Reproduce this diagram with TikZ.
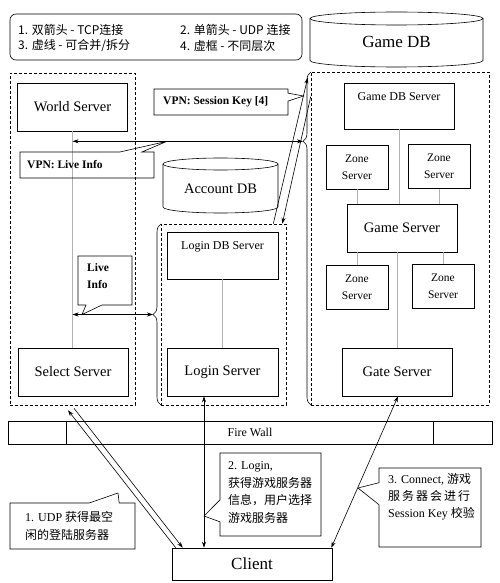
\documentclass[tikz,border=0pt]{standalone}
\usepackage{fontspec}
\setmainfont{Liberation Serif}
\newfontfamily\cjk{Noto Sans CJK SC}
\usetikzlibrary{arrows.meta, positioning, shapes.callouts, decorations.pathreplacing}

\begin{document}
\begin{tikzpicture}[
    x=1pt, y=-1pt, % pixel grid, y going down
    server/.style={rectangle, draw, semithick, minimum height=48pt, minimum width=110pt, align=center, font=\fontsize{14.5}{17}\selectfont}, % main servers
    dbserver/.style={rectangle, draw, semithick, minimum height=47pt, minimum width=111pt, align=center, font=\fontsize{12}{15}\selectfont}, % title at the top
    zone/.style={rectangle, draw, semithick, minimum height=44pt, minimum width=62pt, align=center, font=\fontsize{11.5}{17}\selectfont},
    group/.style={rectangle, draw, semithick, dash pattern=on 3pt off 2pt, inner sep=0pt}, % dashed layers
    link/.style={gray!60, semithick},
    tcp/.style={{Stealth[length=6pt,width=4pt]}-{Stealth[length=6pt,width=4pt]}, semithick},
    udp/.style={-{Stealth[length=6pt,width=4pt]}, semithick},
    callbox/.style={rectangle callout, draw, semithick, inner sep=0pt},
    vpntext/.style={anchor=west, align=left, inner sep=0pt, font=\fontsize{11.5}{17}\selectfont\bfseries},
    notetext/.style={anchor=west, align=left, inner sep=0pt, font=\fontsize{12}{17.7}\selectfont},
    legendtext/.style={anchor=west, inner sep=0pt, font=\cjk\fontsize{12}{14}\selectfont},
    bracket/.style={semithick, decorate}
]
\useasboundingbox (0,0) rectangle (500,583);

% Legend
\node[draw, semithick, rounded corners=6pt, minimum width=292pt, minimum height=46pt] (legend) at (156,37) {};
\node[legendtext] (leg1) at (18,30) {1. 双箭头 - TCP连接};
\node[legendtext] (leg2) at (180,30) {2. 单箭头 - UDP 连接};
\node[legendtext] (leg3) at (18,46) {3. 虚线 - 可合并/拆分};
\node[legendtext] (leg4) at (180,46) {4. 虚框 - 不同层次};

% Databases
\node[font=\fontsize{17}{20}\selectfont] (gamedb) at (396.5,42) {Game DB};
\draw[semithick] (396.5,18.5) ellipse [x radius=86.5pt, y radius=6.5pt];
\draw[semithick] (310,18.5) -- (310,60.5) arc [start angle=180, end angle=360, x radius=86.5pt, y radius=6.5pt] -- (483,18.5);

\node[font=\fontsize{14.5}{17}\selectfont] (accountdb) at (220.5,189) {Account DB};
\draw[semithick] (220.5,164) ellipse [x radius=57.5pt, y radius=6pt];
\draw[semithick] (163,164) -- (163,207) arc [start angle=180, end angle=360, x radius=57.5pt, y radius=6pt] -- (278,164);

% Layers
\node[group, minimum width=125pt, minimum height=332pt] (worldgrp) at (72.5,239) {};
\node[group, minimum width=125pt, minimum height=181pt] (logingrp) at (223.5,314.5) {};
\node[group, minimum width=178pt, minimum height=333pt] (gamegrp) at (400,238.5) {};

\draw[bracket, decoration={brace, amplitude=8pt}] (161,405) -- (161,224);
\draw[bracket, decoration={brace, amplitude=8pt, aspect=0.792}] (311,405) -- (311,72);
\coordinate (logintip) at (153,314.5);
\coordinate (gametip) at (303,141.3);

% World / Select
\node[server] (worldsrv) at (72.5,107) {World Server};
\node[server] (selectsrv) at (73,372) {Select Server};

% Login
\node[dbserver] (logindbsrv) at (222.5,255.5) {Login DB Server\\ \strut};
\node[server, minimum width=111pt] (loginsrv) at (logindbsrv |- selectsrv) {Login Server};

% Game
\node[dbserver, minimum width=110pt, minimum height=46pt] (gamedbsrv) at (399,106) {Game DB Server\\ \strut};
\node[zone] (zoneA) at (357,167) {Zone\\Server};
\node[zone] (zoneB) at (439,166.5) {Zone\\Server};
\node[server] (gamesrv) at (402,228) {Game Server};
\node[zone] (zoneC) at (357,287) {Zone\\Server};
\node[zone] (zoneD) at (443,286) {Zone\\Server};
\node[server] (gatesrv) at (397,372) {Gate Server};

% Fire wall and client
\node[rectangle, draw, semithick, minimum width=484pt, minimum height=23pt, font=\fontsize{12}{14}\selectfont] (firewall) at (250,432.5) {Fire Wall};
\draw[semithick] ([xshift=59pt]firewall.north west) -- ([xshift=59pt]firewall.south west);
\draw[semithick] ([xshift=-59pt]firewall.north east) -- ([xshift=-59pt]firewall.south east);
\node[rectangle, draw, semithick, minimum width=160pt, minimum height=32pt, font=\fontsize{17}{20}\selectfont] (client) at (252,564) {Client};

% Inner links
\draw[link] (worldsrv.south) -- (worldsrv.south |- selectsrv.north);
\draw[link] (logindbsrv.south) -- (loginsrv.north);
\draw[link] (gamedbsrv.south) -- (gamedbsrv.south |- gamesrv.north);
\draw[link] (zoneA.south) -- (zoneA.south |- gamesrv.north);
\draw[link] (zoneB.south) -- (zoneB.south |- gamesrv.north);
\draw[link] (zoneC.north) -- (zoneC.north |- gamesrv.south);
\draw[link] (zoneD.north) -- (zoneD.north |- gamesrv.south);
\draw[link] (gatesrv.north) -- (gatesrv.north |- gamesrv.south);

% VPN links
\draw[tcp] (worldsrv.south |- gametip) -- (gametip);
\draw[tcp] (worldsrv.south |- logintip) -- (logintip);
\draw[udp] ([xshift=-13pt]logingrp.north east) -- ([shift={(-3pt,-6pt)}]gamegrp.north west);
\draw[udp] ([yshift=-25pt]gamegrp.north west) -- ([xshift=-4pt]logingrp.north east);

% Client links
\draw[udp] ([xshift=4pt]client.north west) -- ([shift={(-4.5pt,-5pt)}]worldgrp.south);
\draw[udp] ([shift={(1.5pt,-3pt)}]worldgrp.south) -- ([xshift=11pt]client.north west);
\draw[tcp] ([xshift=-18.5pt]loginsrv.south) -- ([xshift=-18.5pt]loginsrv.south |- client.north);
\draw[tcp] ([xshift=1pt]gatesrv.south) -- ([xshift=-1pt]client.north east);

% Callouts
\node[callbox, minimum width=134pt, minimum height=26pt, callout pointer width=8pt, callout absolute pointer={(303.5,96)}] (sessionkey) at (221,102) {};
\node[vpntext] at (163,102) {VPN: Session Key [4]};
\node[callbox, minimum width=134pt, minimum height=26pt, callout pointer width=22pt, callout absolute pointer={(167,141.3)}] (liveinfo) at (87,165) {};
\node[vpntext] at (27,165) {VPN: Live Info};
\node[callbox, minimum width=54pt, minimum height=49pt, callout pointer width=16pt, callout absolute pointer={(82,314.5)}] (liveinfo2) at (105,280.5) {};
\node[vpntext] at (87,276.5) {Live\\Info};

\node[callbox, minimum width=125pt, minimum height=46pt, callout pointer width=30pt, callout absolute pointer={(118,493)}] (udpnote) at (72.5,526) {};
\node[notetext] at (25,526) {1. UDP {\cjk 获得最空}\\{\cjk 闲的登陆服务器}};
\node[callbox, minimum width=101pt, minimum height=83pt, callout pointer width=22pt, callout absolute pointer={(204,516)}] (loginnote) at (270.5,494.5) {};
\node[notetext] at (228,492.5) {2. Login,\\{\cjk 获得游戏服务器}\\{\cjk 信息，用户选择}\\{\cjk 游戏服务器}};
\node[callbox, minimum width=102pt, minimum height=79pt, callout pointer width=22pt, callout absolute pointer={(358,488)}] (connectnote) at (430,507.5) {};
\node[notetext, font=\fontsize{12}{17}\selectfont] at (388,497) {3. Connect, {\cjk 游戏}\\{\cjk 服\kern2pt 务\kern2pt 器\kern2pt 会\kern2pt 进\kern2pt 行}\\Session Key {\cjk 校验}};

\end{tikzpicture}
\end{document}
